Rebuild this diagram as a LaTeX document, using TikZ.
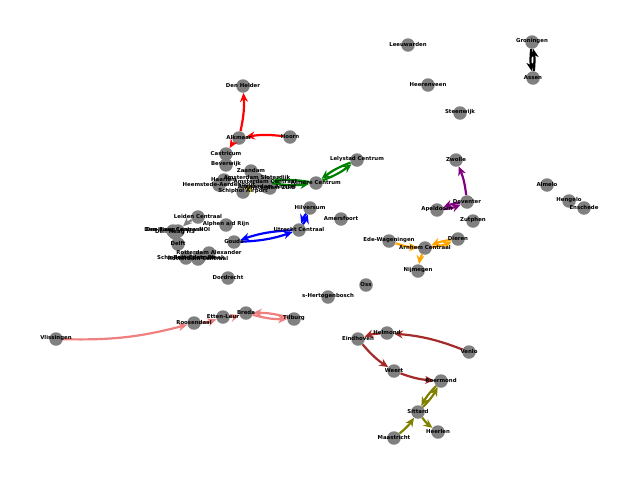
\documentclass[tikz,border=0pt]{standalone}
\usepackage{fontspec}
\setmainfont{DejaVu Sans}
\usepackage{tikz}
\usetikzlibrary{arrows.meta}
\usepackage{xcolor}
\definecolor{lineGreen}{RGB}{0,128,0}
\definecolor{linePurple}{RGB}{128,0,128}
\definecolor{lineOrange}{RGB}{255,165,0}
\definecolor{lineCoral}{RGB}{240,128,128}
\definecolor{lineBrown}{RGB}{165,42,42}
\definecolor{lineOlive}{RGB}{128,128,0}

\begin{document}
\begin{tikzpicture}[
    x=1pt, y=-1pt,
    station/.style={circle, fill=gray, inner sep=0pt, minimum size=13.5pt},
    stationname/.style={font=\fontsize{5.4}{6}\selectfont\bfseries, inner sep=0pt, text=black, yshift=0.7pt},
    line/.style={-{Stealth[length=9pt, width=8pt]}, line width=2.2pt, bend right=8}
]
\useasboundingbox (0,0) rectangle (640,480);

% Stations
\node[station] (leeuwarden) at (408,45) {};
\node[station] (groningen) at (532,42) {};
\node[station] (assen) at (533,78) {};
\node[station] (heerenveen) at (428,85) {};
\node[station] (steenwijk) at (460,113) {};
\node[station] (denhelder) at (243,86) {};
\node[station] (alkmaar) at (239,138) {};
\node[station] (hoorn) at (290,137) {};
\node[station] (castricum) at (226,154) {};
\node[station] (beverwijk) at (226,165) {};
\node[station] (zaandam) at (251,171) {};
\node[station] (haarlem) at (224,180) {};
\node[station] (heemstede) at (219,185) {};
\node[station] (sloterdijk) at (257,179) {};
\node[station] (amsterdam) at (265,182) {};
\node[station] (amstel) at (267,187) {};
\node[station] (zuid) at (270,188) {};
\node[station] (schiphol) at (243,192) {};
\node[station] (almere) at (316,183) {};
\node[station] (lelystad) at (357,160) {};
\node[station] (zwolle) at (456,160) {};
\node[station] (almelo) at (547,185) {};
\node[station] (hengelo) at (569,201) {};
\node[station] (enschede) at (584,208) {};
\node[station] (deventer) at (467,202) {};
\node[station] (apeldoorn) at (437,210) {};
\node[station] (zutphen) at (473,221) {};
\node[station] (dieren) at (458,239) {};
\node[station] (arnhem) at (425,248) {};
\node[station] (ede) at (389,241) {};
\node[station] (nijmegen) at (418,271) {};
\node[station] (hilversum) at (310,208) {};
\node[station] (amersfoort) at (341,219) {};
\node[station] (utrecht) at (299,230) {};
\node[station] (gouda) at (234,242) {};
\node[station] (alphen) at (226,225) {};
\node[station] (leiden) at (198,217) {};
\node[station] (dhcentraal) at (173,231) {};
\node[station] (dhhs) at (175,233) {};
\node[station] (dhnoi) at (178,231) {};
\node[station] (delft) at (178,244) {};
\node[station] (alexander) at (209,253) {};
\node[station] (rotterdam) at (198,259) {};
\node[station] (blaak) at (199,258) {};
\node[station] (schiedam) at (186,258) {};
\node[station] (dordrecht) at (228,278) {};
\node[station] (oss) at (366,285) {};
\node[station] (denbosch) at (328,297) {};
\node[station] (breda) at (246,313) {};
\node[station] (ettenleur) at (223,317) {};
\node[station] (roosendaal) at (194,323) {};
\node[station] (tilburg) at (294,319) {};
\node[station] (vlissingen) at (56,339) {};
\node[station] (eindhoven) at (358,339) {};
\node[station] (helmond) at (387,333) {};
\node[station] (venlo) at (469,352) {};
\node[station] (weert) at (394,371) {};
\node[station] (roermond) at (441,381) {};
\node[station] (sittard) at (418,412) {};
\node[station] (heerlen) at (438,432) {};
\node[station] (maastricht) at (394,438) {};

% Lines
\draw[line, black] (groningen) to (assen);
\draw[line, black] (assen) to (groningen);

\draw[line, red] (alkmaar) to (denhelder);
\draw[line, red] (hoorn) to (alkmaar);
\draw[line, red] (alkmaar) to (castricum);

\draw[line, lineGreen] (amsterdam) to (almere);
\draw[line, lineGreen] (almere) to (amsterdam);
\draw[line, lineGreen] (almere) to (lelystad);
\draw[line, lineGreen] (lelystad) to (almere);

\draw[line, yellow] (schiphol) to (sloterdijk);

\draw[line, blue] (utrecht) to (gouda);
\draw[line, blue] (gouda) to (utrecht);
\draw[line, blue] (utrecht) to (hilversum);
\draw[line, blue] (hilversum) to (utrecht);

\draw[line, gray] (leiden) to (dhnoi);

\draw[line, linePurple] (deventer) to (zwolle);
\draw[line, linePurple] (apeldoorn) to (deventer);
\draw[line, linePurple] (deventer) to (apeldoorn);

\draw[line, lineOrange] (ede) to (arnhem);
\draw[line, lineOrange] (arnhem) to (dieren);
\draw[line, lineOrange] (dieren) to (arnhem);
\draw[line, lineOrange] (arnhem) to (nijmegen);

\draw[line, lineCoral] (vlissingen) to (roosendaal);
\draw[line, lineCoral] (roosendaal) to (ettenleur);
\draw[line, lineCoral] (ettenleur) to (breda);
\draw[line, lineCoral] (breda) to (tilburg);
\draw[line, lineCoral] (tilburg) to (breda);

\draw[line, lineBrown] (venlo) to (helmond);
\draw[line, lineBrown] (helmond) to (eindhoven);
\draw[line, lineBrown] (eindhoven) to (weert);
\draw[line, lineBrown] (weert) to (roermond);

\draw[line, lineOlive] (roermond) to (sittard);
\draw[line, lineOlive] (sittard) to (roermond);
\draw[line, lineOlive] (maastricht) to (sittard);
\draw[line, lineOlive] (sittard) to (heerlen);

% Labels
\node[stationname] (leeuwarden-t) at (leeuwarden) {Leeuwarden};
\node[stationname] (groningen-t) at (groningen) {Groningen};
\node[stationname] (assen-t) at (assen) {Assen};
\node[stationname] (heerenveen-t) at (heerenveen) {Heerenveen};
\node[stationname] (steenwijk-t) at (steenwijk) {Steenwijk};
\node[stationname] (denhelder-t) at (denhelder) {Den Helder};
\node[stationname] (alkmaar-t) at (alkmaar) {Alkmaar};
\node[stationname] (hoorn-t) at (hoorn) {Hoorn};
\node[stationname] (castricum-t) at (castricum) {Castricum};
\node[stationname] (beverwijk-t) at (beverwijk) {Beverwijk};
\node[stationname] (zaandam-t) at (zaandam) {Zaandam};
\node[stationname] (haarlem-t) at (haarlem) {Haarlem};
\node[stationname] (heemstede-t) at (heemstede) {Heemstede-Aerdenhout};
\node[stationname] (sloterdijk-t) at (sloterdijk) {Amsterdam Sloterdijk};
\node[stationname] (amsterdam-t) at (amsterdam) {Amsterdam Centraal};
\node[stationname] (amstel-t) at (amstel) {Amsterdam Amstel};
\node[stationname] (zuid-t) at (zuid) {Amsterdam Zuid};
\node[stationname] (schiphol-t) at (schiphol) {Schiphol Airport};
\node[stationname] (almere-t) at (almere) {Almere Centrum};
\node[stationname] (lelystad-t) at (lelystad) {Lelystad Centrum};
\node[stationname] (zwolle-t) at (zwolle) {Zwolle};
\node[stationname] (almelo-t) at (almelo) {Almelo};
\node[stationname] (hengelo-t) at (hengelo) {Hengelo};
\node[stationname] (enschede-t) at (enschede) {Enschede};
\node[stationname] (deventer-t) at (deventer) {Deventer};
\node[stationname] (apeldoorn-t) at (apeldoorn) {Apeldoorn};
\node[stationname] (zutphen-t) at (zutphen) {Zutphen};
\node[stationname] (dieren-t) at (dieren) {Dieren};
\node[stationname] (arnhem-t) at (arnhem) {Arnhem Centraal};
\node[stationname] (ede-t) at (ede) {Ede-Wageningen};
\node[stationname] (nijmegen-t) at (nijmegen) {Nijmegen};
\node[stationname] (hilversum-t) at (hilversum) {Hilversum};
\node[stationname] (amersfoort-t) at (amersfoort) {Amersfoort};
\node[stationname] (utrecht-t) at (utrecht) {Utrecht Centraal};
\node[stationname] (gouda-t) at (gouda) {Gouda};
\node[stationname] (alphen-t) at (alphen) {Alphen a/d Rijn};
\node[stationname] (leiden-t) at (leiden) {Leiden Centraal};
\node[stationname] (dhcentraal-t) at (dhcentraal) {Den Haag Centraal};
\node[stationname] (dhhs-t) at (dhhs) {Den Haag HS};
\node[stationname] (dhnoi-t) at (dhnoi) {Den Haag Laan v NOI};
\node[stationname] (delft-t) at (delft) {Delft};
\node[stationname] (alexander-t) at (alexander) {Rotterdam Alexander};
\node[stationname] (rotterdam-t) at (rotterdam) {Rotterdam Centraal};
\node[stationname] (blaak-t) at (blaak) {Rotterdam Blaak};
\node[stationname] (schiedam-t) at (schiedam) {Schiedam Centrum};
\node[stationname] (dordrecht-t) at (dordrecht) {Dordrecht};
\node[stationname] (oss-t) at (oss) {Oss};
\node[stationname] (denbosch-t) at (denbosch) {s-Hertogenbosch};
\node[stationname] (breda-t) at (breda) {Breda};
\node[stationname] (ettenleur-t) at (ettenleur) {Etten-Leur};
\node[stationname] (roosendaal-t) at (roosendaal) {Roosendaal};
\node[stationname] (tilburg-t) at (tilburg) {Tilburg};
\node[stationname] (vlissingen-t) at (vlissingen) {Vlissingen};
\node[stationname] (eindhoven-t) at (eindhoven) {Eindhoven};
\node[stationname] (helmond-t) at (helmond) {Helmond};
\node[stationname] (venlo-t) at (venlo) {Venlo};
\node[stationname] (weert-t) at (weert) {Weert};
\node[stationname] (roermond-t) at (roermond) {Roermond};
\node[stationname] (sittard-t) at (sittard) {Sittard};
\node[stationname] (heerlen-t) at (heerlen) {Heerlen};
\node[stationname] (maastricht-t) at (maastricht) {Maastricht};

\end{tikzpicture}
\end{document}
